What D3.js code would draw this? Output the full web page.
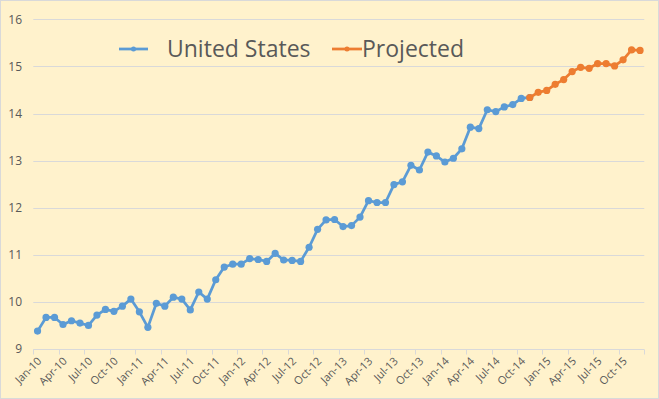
<!DOCTYPE html>
<html>
<head>
<meta charset="utf-8">
<script src="https://cdn.jsdelivr.net/npm/d3@7"></script>
<style>
  html,body{margin:0;padding:0;background:#fff;}
  svg{display:block;}
</style>
</head>
<body>
<svg id="chart" width="659" height="399"></svg>
<script>
// months Jan-10 .. Dec-15
const months=[];
const mnames=["Jan","Feb","Mar","Apr","May","Jun","Jul","Aug","Sep","Oct","Nov","Dec"];
for(let yr=10;yr<=15;yr++){
    for(const m of mnames) months.push(m+"-"+yr);
}

const us_values=[
    9.38,9.67,9.67,9.52,9.60,9.55,9.50,9.72,9.84,9.80,9.91,10.06,
    9.79,9.46,9.97,9.91,10.10,10.06,9.83,10.21,10.06,10.47,10.74,10.80,
    10.80,10.92,10.90,10.86,11.03,10.89,10.88,10.86,11.16,11.54,11.74,11.75,
    11.60,11.62,11.80,12.15,12.11,12.11,12.49,12.55,12.90,12.80,13.18,13.10,
    12.97,13.05,13.25,13.71,13.68,14.08,14.04,14.14,14.19,14.32,14.34
];
const projected_values=[
    14.34,14.45,14.49,14.62,14.72,14.89,14.98,14.96,15.06,15.06,15.01,15.14,15.35,15.34
];
const projected_start="Nov-14";

const y_ticks=[9,10,11,12,13,14,15,16];
const x_labels=months.filter((d,i)=>i%3===0);

const us_data=us_values.map((v,i)=>({month:months[i],value:v}));
const p0=months.indexOf(projected_start);
const projected_data=projected_values.map((v,i)=>({month:months[p0+i],value:v}));

const svg=d3.select("#chart");
const W=659,H=399;

// background + border
svg.append("rect")
    .attr("x",0.5).attr("y",0.5)
    .attr("width",W-1).attr("height",H-1)
    .attr("fill","#FFF2CC")
    .attr("stroke","#D9D9D9")
    .attr("stroke-width",1);

const plot_left=33.3,plot_right=644.3,plot_top=19.3,plot_bottom=349;

const x=d3.scaleBand().domain(months).range([plot_left,plot_right]);
const y=d3.scaleLinear().domain([9,16]).range([plot_bottom,plot_top]);

// gridlines
svg.append("g")
    .selectAll("line")
    .data(y_ticks.filter(d=>d!==9))
    .join("line")
    .attr("x1",plot_left).attr("x2",plot_right)
    .attr("y1",d=>Math.round(y(d))+0.5)
    .attr("y2",d=>Math.round(y(d))+0.5)
    .attr("stroke","#D9D9D9")
    .attr("stroke-width",1);

// y labels
svg.append("g")
    .selectAll("text")
    .data(y_ticks)
    .join("text")
    .attr("x",22)
    .attr("y",d=>y(d))
    .attr("dy","0.35em")
    .attr("text-anchor","end")
    .attr("font-family","'Open Sans', sans-serif")
    .attr("font-size",12)
    .attr("fill","#595959")
    .text(d=>d);

// x axis line + ticks
const axis_y=Math.round(plot_bottom)+0.5;
svg.append("line")
    .attr("x1",plot_left).attr("x2",plot_right)
    .attr("y1",axis_y).attr("y2",axis_y)
    .attr("stroke","#D9D9D9")
    .attr("stroke-width",1);

const tick_pos=x_labels.map(m=>x(m));
tick_pos.push(plot_right);
svg.append("g")
    .selectAll("line")
    .data(tick_pos)
    .join("line")
    .attr("x1",d=>Math.round(d)+0.5)
    .attr("x2",d=>Math.round(d)+0.5)
    .attr("y1",axis_y)
    .attr("y2",axis_y+5)
    .attr("stroke","#D9D9D9")
    .attr("stroke-width",1);

// x labels (rotated)
svg.append("g")
    .selectAll("text")
    .data(x_labels)
    .join("text")
    .attr("transform",d=>`translate(${x(d)+x.bandwidth()/2+2},${plot_bottom+10}) rotate(-45)`)
    .attr("text-anchor","end")
    .attr("dy","0.35em")
    .attr("font-family","'Open Sans', sans-serif")
    .attr("font-size",11)
    .attr("fill","#595959")
    .text(d=>d);

// series
const line=d3.line()
    .x(d=>x(d.month)+x.bandwidth()/2)
    .y(d=>y(d.value));

function draw_series(data,color){
    svg.append("path")
        .datum(data)
        .attr("d",line)
        .attr("fill","none")
        .attr("stroke",color)
        .attr("stroke-width",2.75)
        .attr("stroke-linejoin","round");
    svg.append("g")
        .selectAll("circle")
        .data(data)
        .join("circle")
        .attr("cx",d=>x(d.month)+x.bandwidth()/2)
        .attr("cy",d=>y(d.value))
        .attr("r",3.6)
        .attr("fill",color);
}
draw_series(us_data,"#5B9BD5");
draw_series(projected_data,"#ED7D31");

// legend
const legend=[
    {name:"United States",color:"#5B9BD5",x1:119,x2:148,tx:167},
    {name:"Projected",color:"#ED7D31",x1:332,x2:362,tx:362}
];
const ly=49;
for(const l of legend){
    svg.append("line")
        .attr("x1",l.x1).attr("x2",l.x2)
        .attr("y1",ly).attr("y2",ly)
        .attr("stroke",l.color)
        .attr("stroke-width",2.75);
    svg.append("circle")
        .attr("cx",(l.x1+l.x2)/2)
        .attr("cy",ly)
        .attr("r",2.5)
        .attr("fill",l.color);
    svg.append("text")
        .attr("x",l.tx)
        .attr("y",ly)
        .attr("dy","0.35em")
        .attr("font-family","'Open Sans', sans-serif")
        .attr("font-size",23)
        .attr("fill","#595959")
        .text(l.name);
}
</script>
</body>
</html>
